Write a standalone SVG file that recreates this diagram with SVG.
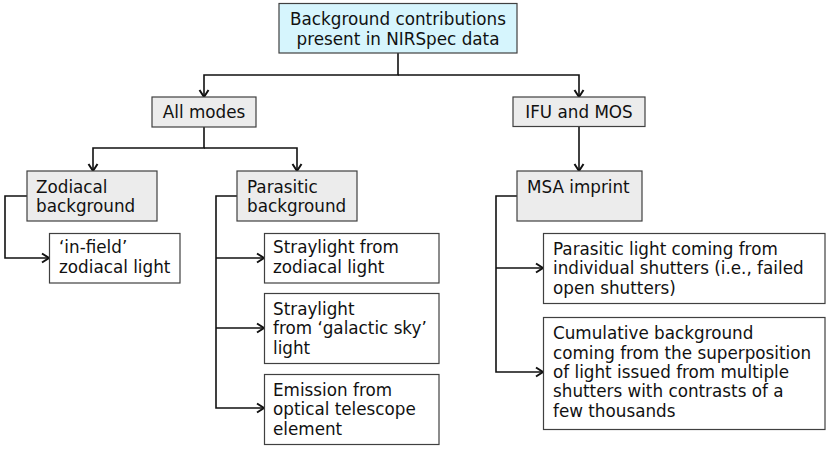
<svg xmlns="http://www.w3.org/2000/svg" width="831" height="450" viewBox="0 0 831 450">
<style>
.box{stroke:#404040;stroke-width:1.2}
.top{fill:#d6f5fd}
.grey{fill:#ececec}
.white{fill:#ffffff}
text{font-family:"DejaVu Sans","Verdana",sans-serif;font-size:16.8px;fill:#111}
.c{text-anchor:middle}
.conn path{fill:none;stroke:#111;stroke-width:1.6}
</style>
<defs>
<marker id="arr" markerUnits="userSpaceOnUse" markerWidth="12" markerHeight="12" viewBox="0 0 12 12" refX="10" refY="6" orient="auto">
<path d="M3,1.5 L10,6 L3,10.5" fill="none" stroke="#111" stroke-width="2"/>
</marker>
</defs>
<rect width="831" height="450" fill="#fff"/>
<g class="conn">
<path d="M398,53 V75 H204 V97" marker-end="url(#arr)"/>
<path d="M398,75 H579 V97" marker-end="url(#arr)"/>
<path d="M204,127 V148 H93 V171" marker-end="url(#arr)"/>
<path d="M204,148 H297 V171" marker-end="url(#arr)"/>
<path d="M579,126 V171" marker-end="url(#arr)"/>
<path d="M27,196 H5 V258 H49" marker-end="url(#arr)"/>
<path d="M237,196 H216 V408 H264" marker-end="url(#arr)"/>
<path d="M216,258 H264" marker-end="url(#arr)"/>
<path d="M216,328 H264" marker-end="url(#arr)"/>
<path d="M517,196 H496 V372 H543" marker-end="url(#arr)"/>
<path d="M496,268 H543" marker-end="url(#arr)"/>
</g>
<g id="root">
<rect class="box top" x="279" y="3.5" width="238" height="49.5"/>
<text class="c" x="398" y="25">Background contributions</text>
<text class="c" x="398" y="44.5">present in NIRSpec data</text>
</g>
<g id="allmodes">
<rect class="box grey" x="152" y="97" width="104" height="30"/>
<text class="c" x="204" y="118">All modes</text>
</g>
<g id="ifumos">
<rect class="box grey" x="513" y="97" width="132" height="29.5"/>
<text class="c" x="579" y="118">IFU and MOS</text>
</g>
<g id="zodiacal">
<rect class="box grey" x="27" y="171" width="130" height="50"/>
<text x="36" y="192.7">Zodiacal</text>
<text x="36" y="211.7">background</text>
</g>
<g id="infield">
<rect class="box white" x="49.5" y="233.5" width="130.5" height="49.5"/>
<text x="59" y="253">‘in-field’</text>
<text x="59" y="272.5">zodiacal light</text>
</g>
<g id="parasitic">
<rect class="box grey" x="237" y="171" width="120" height="50"/>
<text x="247" y="192.7">Parasitic</text>
<text x="247" y="211.7">background</text>
</g>
<g id="stray-zodi">
<rect class="box white" x="264.5" y="233.5" width="174.5" height="49.5"/>
<text x="273" y="253">Straylight from</text>
<text x="273" y="272.5">zodiacal light</text>
</g>
<g id="stray-gal">
<rect class="box white" x="264.5" y="293.5" width="174.5" height="70"/>
<text x="273" y="315">Straylight</text>
<text x="273" y="334.3">from ‘galactic sky’</text>
<text x="273" y="353.6">light</text>
</g>
<g id="emission">
<rect class="box white" x="264.5" y="374.5" width="174.5" height="70"/>
<text x="273" y="395.5">Emission from</text>
<text x="273" y="415">optical telescope</text>
<text x="273" y="434.5">element</text>
</g>
<g id="msa">
<rect class="box grey" x="517" y="171" width="125" height="50"/>
<text x="527" y="192.7">MSA imprint</text>
</g>
<g id="parasitic-light">
<rect class="box white" x="543.5" y="233.5" width="281.5" height="70"/>
<text x="553" y="255">Parasitic light coming from</text>
<text x="553" y="274.3">individual shutters (i.e., failed</text>
<text x="553" y="293.6">open shutters)</text>
</g>
<g id="cumulative">
<rect class="box white" x="543.5" y="317.5" width="281.5" height="112"/>
<text x="553" y="339.3">Cumulative background</text>
<text x="553" y="358.6">coming from the superposition</text>
<text x="553" y="377.9">of light issued from multiple</text>
<text x="553" y="397.2">shutters with contrasts of a</text>
<text x="553" y="416.5">few thousands</text>
</g>
</svg>
